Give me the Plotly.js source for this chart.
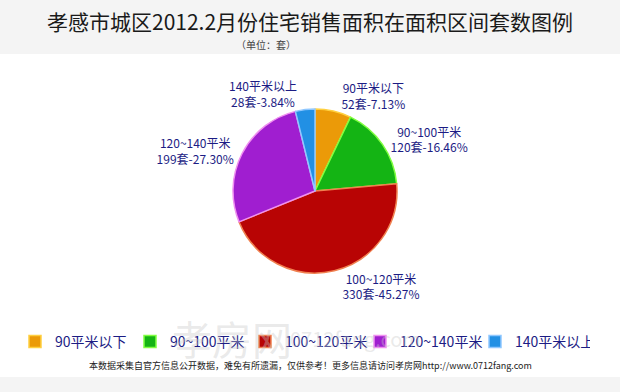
<!DOCTYPE html>
<html><head><meta charset="utf-8">
<script src="https://cdn.plot.ly/plotly-3.0.1.min.js"></script>
<style>html,body{margin:0;padding:0;background:#fff}#chart{width:620px;height:392px}</style>
</head><body><div id="chart"></div>
<script>
const categories = ["90平米以下", "90~100平米", "100~120平米", "120~140平米", "140平米以上"];
const counts = [52, 120, 330, 199, 28];
const fillColors = ["#eb9a08", "#14b414", "#b80404", "#a01ed0", "#2290e4"];
const edgeColors = ["#ffd040", "#80ff40", "#f08050", "#f090f0", "#90c8ff"];
const titleText = "孝感市城区2012.2月份住宅销售面积在面积区间套数图例";
const subtitleText = "（单位：套）";
const footerText = "本数据采集自官方信息公开数据，难免有所遗漏，仅供参考！更多信息请访问孝房网http://www.0712fang.com";

const font = "'Noto Sans CJK SC', 'DejaVu Sans', sans-serif";
const navy = "#1c1c84";

const cx = 315, cy = 191, r = 82, W = 620, H = 392;

const trace = {
  type: "pie",
  labels: categories,
  values: counts,
  sort: false,
  direction: "clockwise",
  rotation: 0,
  marker: { colors: fillColors, line: { color: edgeColors, width: 1.5 } },
  textposition: "outside",
  texttemplate: "%{label}<br>%{value}套-%{percent:.2%}",
  textfont: { family: font, size: 12, color: navy },
  hoverinfo: "none",
  domain: { x: [(cx - r) / W, (cx + r) / W], y: [(H - cy - r) / H, (H - cy + r) / H] },
  automargin: false
};

const layout = {
  width: W, height: H,
  margin: { l: 0, r: 0, t: 0, b: 0 },
  paper_bgcolor: "#ffffff",
  showlegend: true,
  legend: {
    orientation: "h", x: 15 / W, xanchor: "left", y: 1 - 342 / H, yanchor: "middle",
    font: { family: font, size: 14, color: navy },
    entrywidth: 70, itemwidth: 30, traceorder: "normal", bgcolor: "rgba(0,0,0,0)"
  },
  shapes: [
    { type: "rect", xref: "paper", yref: "paper", x0: 0, x1: 1, y0: 1 - 54 / H, y1: 1, fillcolor: "#f4f4f4", line: { width: 0 }, layer: "below" },
    { type: "rect", xref: "paper", yref: "paper", x0: 0, x1: 1, y0: 0, y1: 1 - 377 / H, fillcolor: "#f4f4f4", line: { width: 0 }, layer: "below" }
  ],
  annotations: [
    { text: titleText, xref: "paper", yref: "paper", x: 0.5, y: 1 - 21 / H, xanchor: "center", yanchor: "middle", showarrow: false, font: { family: font, size: 21, color: "#1a1a1a" } },
    { text: subtitleText, xref: "paper", yref: "paper", x: 266 / W, y: 1 - 44 / H, xanchor: "center", yanchor: "middle", showarrow: false, font: { family: font, size: 10, color: "#444" } },
    { text: "孝房网", xref: "paper", yref: "paper", x: 232 / W, y: 1 - 338 / H, xanchor: "center", yanchor: "middle", showarrow: false, font: { family: font, size: 40, color: "rgba(200,200,200,0.4)" } },
    { text: "0712fang.com", xref: "paper", yref: "paper", x: 355 / W, y: 1 - 338 / H, xanchor: "center", yanchor: "middle", showarrow: false, font: { family: font, size: 20, color: "rgba(200,200,200,0.4)" } },
    { text: footerText, xref: "paper", yref: "paper", x: 0.5, y: 1 - 365 / H, xanchor: "center", yanchor: "middle", showarrow: false, font: { family: font, size: 9, color: "#222" } }
  ]
};

Plotly.newPlot("chart", [trace], layout, { displayModeBar: false, staticPlot: true });
</script></body></html>
